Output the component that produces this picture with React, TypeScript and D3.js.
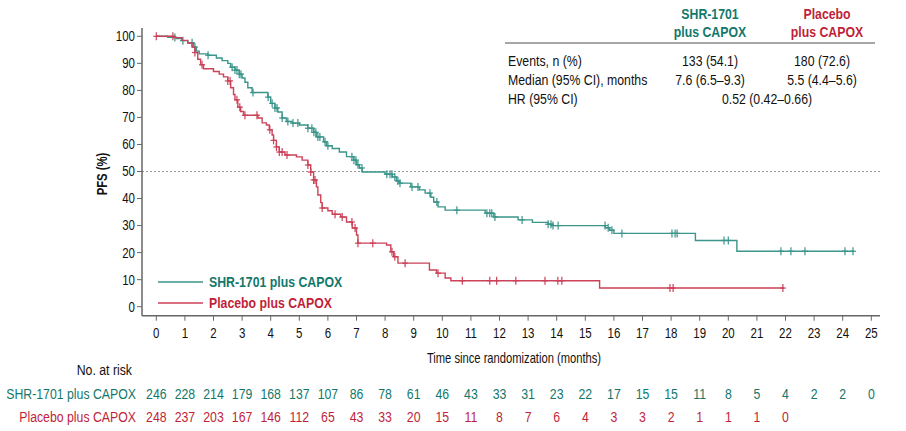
import React from "react";
import * as d3 from "d3";

// ---------- data ----------
const xTicks = d3.range(0, 26);
const yTicks = [0, 10, 20, 30, 40, 50, 60, 70, 80, 90, 100];

const seriesNames = ["SHR-1701 plus CAPOX", "Placebo plus CAPOX"];

// step points: [time (months), PFS % after the drop]
const shrSteps: [number, number][] = [
  [0, 100], [0.4, 99.6], [0.7, 99.2], [0.9, 98.4], [1.1, 97.6], [1.3, 96], [1.4, 94.5],
  [1.5, 93.5], [1.8, 93], [2.1, 92], [2.3, 91], [2.5, 90], [2.6, 88.6], [2.75, 87.5],
  [2.9, 86], [3.0, 84.6], [3.1, 83], [3.2, 81], [3.35, 79.2], [3.9, 77.5], [4.0, 75.2],
  [4.15, 73.5], [4.25, 72], [4.4, 69.8], [4.55, 68.5], [4.75, 67.9], [5.0, 67.2],
  [5.3, 66], [5.5, 64.5], [5.6, 62.8], [5.85, 61], [5.95, 59.5], [6.15, 58.5],
  [6.4, 57.2], [6.65, 55.5], [6.9, 54.2], [7.0, 52.5], [7.1, 51.3], [7.2, 49.8],
  [8.0, 49], [8.25, 48], [8.4, 46.5], [8.5, 45.7], [8.9, 44.3], [9.2, 43.2], [9.4, 42],
  [9.6, 40.5], [9.7, 38.7], [9.85, 36.9], [10.1, 35.7], [11.5, 34.6], [11.8, 33.2],
  [12.65, 32.1], [13.15, 31.2], [13.7, 30.5], [13.85, 30.0], [15.7, 29.2], [15.85, 28.3],
  [16.0, 27.1], [18.85, 24.5], [20.3, 20.5],
];
const shrEnd = 24.4;
const shrCensor = [
  0.65, 0.93, 1.25, 1.35, 1.81, 2.65, 2.75, 2.82, 2.9, 2.96, 3.38, 3.91, 4.05, 4.15, 4.22,
  4.4, 4.6, 4.78, 4.95, 5.3, 5.44, 5.51, 5.58, 5.65, 5.72, 5.9, 6.0, 6.84, 6.91, 6.98,
  7.05, 7.19, 8.06, 8.17, 8.24, 8.34, 8.45, 8.52, 8.94, 9.15, 9.57, 9.81, 10.51, 11.56,
  11.66, 11.73, 11.84, 12.79, 13.7, 13.8, 13.87, 14.05, 15.69, 15.8, 15.93, 16.28, 18.03,
  18.14, 18.21, 19.85, 20.0, 21.84, 22.19, 22.68, 24.08, 24.36,
];

const placeboSteps: [number, number][] = [
  [0, 100], [0.6, 99.5], [0.9, 98.5], [1.1, 97.5], [1.25, 96], [1.35, 94], [1.45, 91.5],
  [1.55, 89.5], [1.65, 88], [2.0, 87], [2.2, 86], [2.35, 85], [2.5, 83.5], [2.6, 81],
  [2.7, 78.5], [2.75, 76.5], [2.85, 73.8], [2.95, 72.2], [3.05, 70.8], [3.55, 69.8],
  [3.7, 68], [3.85, 67.2], [3.95, 65.4], [4.05, 63.5], [4.1, 61.5], [4.2, 59.1],
  [4.3, 57.2], [4.5, 56.1], [4.9, 55.4], [5.1, 54.2], [5.3, 52.4], [5.4, 49.8],
  [5.5, 46.9], [5.6, 44.3], [5.65, 41.3], [5.75, 38.5], [5.8, 36.5], [6.0, 35.5],
  [6.15, 34.2], [6.45, 33.2], [6.65, 31.3], [6.85, 29.1], [7.0, 26.5], [7.05, 23.5],
  [8.05, 22.8], [8.2, 20.3], [8.3, 18.5], [8.45, 16.1], [9.55, 13.6], [9.8, 12.4],
  [10.1, 10.6], [10.3, 9.6], [15.5, 6.9],
];
const placeboEnd = 21.95;
const placeboCensor = [
  0.0, 0.58, 1.35, 1.6, 2.5, 2.58, 2.82, 2.92, 3.1, 3.52, 3.97, 4.1, 4.2, 4.3, 4.4, 4.57,
  5.3, 5.4, 5.5, 5.55, 5.8, 6.25, 6.5, 6.84, 6.95, 7.05, 7.57, 8.24, 8.34, 8.7, 9.85,
  10.7, 11.66, 11.9, 12.57, 13.59, 14.04, 14.18, 17.96, 18.07, 21.91,
];

const riskShr = [246, 228, 214, 179, 168, 137, 107, 86, 78, 61, 46, 43, 33, 31, 23, 22, 17, 15, 15, 11, 8, 5, 4, 2, 2, 0];
const riskPlacebo = [248, 237, 203, 167, 146, 112, 65, 43, 33, 20, 15, 11, 8, 7, 6, 4, 3, 3, 2, 1, 1, 1, 0];

const tableRows = [
  ["Events, n (%)", "133 (54.1)", "180 (72.6)"],
  ["Median (95% CI), months", "7.6 (6.5\u20139.3)", "5.5 (4.4\u20135.6)"],
];
const hrRow = ["HR (95% CI)", "0.52 (0.42\u20130.66)"];

// ---------- styles ----------
const TEAL_TEXT = "#13786b";
const TEAL_LINE = "#3a958a";
const RED_TEXT = "#c01f3a";
const RED_LINE = "#cc4258";
const AXIS = "#666";
const FONT = "'Liberation Sans', Arial, sans-serif";
const SX = 0.82; // horizontal condensation to mimic a narrow face

const W = 906;
const H = 431;

function survAt(steps: [number, number][], t: number) {
  let p = steps[0][1];
  for (const [st, sp] of steps) {
    if (st <= t) p = sp;
    else break;
  }
  return p;
}

function T(props: {
  x: number;
  y: number;
  sx?: number;
  size: number;
  anchor?: string;
  bold?: boolean;
  fill?: string;
  children: React.ReactNode;
}) {
  const { x, y, sx = SX, size, anchor = "start", bold = false, fill = "#111", children } = props;
  return (
    <text
      transform={`translate(${x},${y}) scale(${sx},1)`}
      dy="0.35em"
      textAnchor={anchor}
      fontSize={size}
      fontWeight={bold ? "bold" : "normal"}
      fill={fill}
    >
      {children}
    </text>
  );
}

export default function App() {
  const x = d3.scaleLinear().domain([0, 25]).range([156.3, 871.3]);
  const y = d3.scaleLinear().domain([0, 100]).range([306.7, 36.3]);
  const line = d3
    .line<[number, number]>()
    .x((d) => x(d[0]))
    .y((d) => y(d[1]))
    .curve(d3.curveStepAfter);

  const curves = [
    { steps: shrSteps, end: shrEnd, censor: shrCensor, color: TEAL_LINE },
    { steps: placeboSteps, end: placeboEnd, censor: placeboCensor, color: RED_LINE },
  ];

  const axisY0 = 315.7;
  const axisX0 = 142;

  return (
    <svg
      width={W}
      height={H}
      style={{ position: "absolute", left: 0, top: 0, background: "#fff" }}
      fontFamily={FONT}
    >
      {/* reference line at 50% */}
      <line x1={axisX0} x2={880} y1={y(50)} y2={y(50)} stroke="#999" strokeWidth={1} strokeDasharray="2,2" />

      {/* axes */}
      <line x1={axisX0} x2={axisX0} y1={28} y2={axisY0} stroke={AXIS} strokeWidth={1.5} />
      <line x1={axisX0} x2={880} y1={axisY0} y2={axisY0} stroke={AXIS} strokeWidth={1.5} />
      {yTicks.map((t) => (
        <g key={"y" + t}>
          <line x1={axisX0 - 5} x2={axisX0} y1={y(t)} y2={y(t)} stroke={AXIS} strokeWidth={1} />
          <T x={axisX0 - 7} y={y(t)} size={14} anchor="end">
            {t}
          </T>
        </g>
      ))}
      {xTicks.map((t) => (
        <g key={"x" + t}>
          <line x1={x(t)} x2={x(t)} y1={axisY0} y2={axisY0 + 5} stroke={AXIS} strokeWidth={1} />
          <T x={x(t)} y={333} size={14} anchor="middle">
            {t}
          </T>
        </g>
      ))}
      <text
        transform={`translate(102,174) rotate(-90) scale(0.78,1)`}
        textAnchor="middle"
        dy="0.35em"
        fontSize={14.5}
        fontWeight="bold"
        fill="#111"
      >
        PFS (%)
      </text>
      <T x={514} y={358} size={14} sx={0.8} anchor="middle">
        Time since randomization (months)
      </T>

      {/* curves */}
      {curves.map((c, i) => {
        const pts: [number, number][] = [...c.steps, [c.end, c.steps[c.steps.length - 1][1]]];
        return (
          <g key={"c" + i}>
            <path d={line(pts) || ""} fill="none" stroke={c.color} strokeWidth={1.4} />
            {c.censor.map((t, j) => {
              const p = survAt(c.steps, t);
              return (
                <g key={j}>
                  <line x1={x(t)} x2={x(t)} y1={y(p) - 4} y2={y(p) + 4} stroke={c.color} strokeWidth={1.2} />
                  <line x1={x(t) - 3} x2={x(t) + 3} y1={y(p)} y2={y(p)} stroke={c.color} strokeWidth={1.2} />
                </g>
              );
            })}
          </g>
        );
      })}

      {/* legend */}
      <line x1={158} x2={203} y1={282} y2={282} stroke={TEAL_LINE} strokeWidth={1.5} />
      <T x={209} y={282} size={15} bold fill={TEAL_TEXT}>
        {seriesNames[0]}
      </T>
      <line x1={158} x2={203} y1={303} y2={303} stroke={RED_LINE} strokeWidth={1.5} />
      <T x={209} y={303} size={15} bold fill={RED_TEXT}>
        {seriesNames[1]}
      </T>

      {/* summary table */}
      <T x={710} y={14} size={15} bold anchor="middle" fill={TEAL_TEXT}>
        SHR-1701
      </T>
      <T x={710} y={32} size={15} bold anchor="middle" fill={TEAL_TEXT}>
        plus CAPOX
      </T>
      <T x={827} y={14} size={15} bold anchor="middle" fill={RED_TEXT}>
        Placebo
      </T>
      <T x={827} y={32} size={15} bold anchor="middle" fill={RED_TEXT}>
        plus CAPOX
      </T>
      <line x1={505} x2={875} y1={43} y2={43} stroke="#888" strokeWidth={1.5} />
      {tableRows.map((r, i) => (
        <g key={"tr" + i}>
          <T x={508} y={61 + i * 19} size={15}>
            {r[0]}
          </T>
          <T x={710} y={61 + i * 19} size={15} anchor="middle">
            {r[1]}
          </T>
          <T x={822} y={61 + i * 19} size={15} anchor="middle">
            {r[2]}
          </T>
        </g>
      ))}
      <T x={508} y={99} size={15}>
        {hrRow[0]}
      </T>
      <T x={767} y={99} size={15} anchor="middle">
        {hrRow[1]}
      </T>

      {/* number at risk */}
      <T x={132} y={370} size={15} anchor="end">
        No. at risk
      </T>
      <T x={136} y={394} size={15} anchor="end" fill={TEAL_TEXT}>
        {seriesNames[0]}
      </T>
      <T x={136} y={417} size={15} anchor="end" fill={RED_TEXT}>
        {seriesNames[1]}
      </T>
      {riskShr.map((n, i) => (
        <T key={"rs" + i} x={x(i)} y={394} size={15} anchor="middle" fill={TEAL_TEXT}>
          {n}
        </T>
      ))}
      {riskPlacebo.map((n, i) => (
        <T key={"rp" + i} x={x(i)} y={417} size={15} anchor="middle" fill={RED_TEXT}>
          {n}
        </T>
      ))}
    </svg>
  );
}
